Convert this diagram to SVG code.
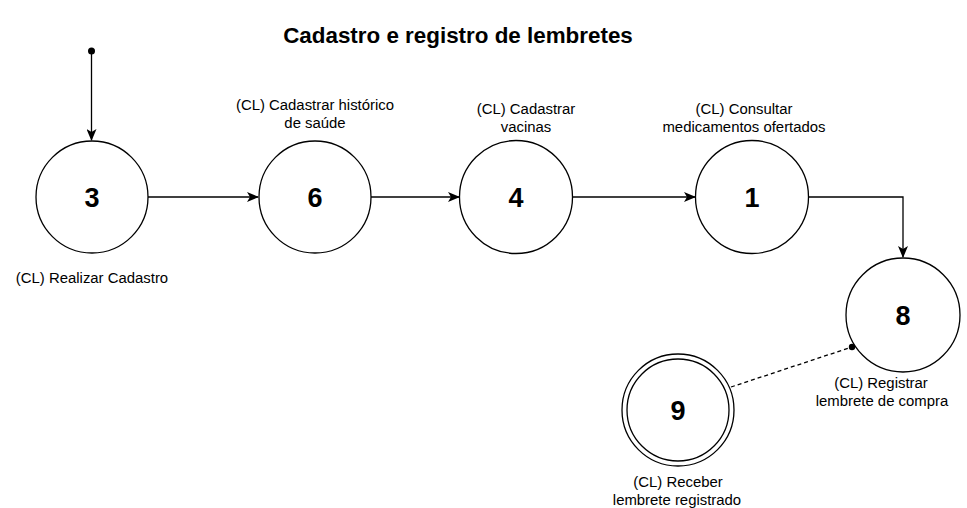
<svg xmlns="http://www.w3.org/2000/svg" width="967" height="508" viewBox="0 0 967 508">
<style>
.c{fill:#fff;stroke:#000;stroke-width:1.3}
.n{font-family:"Liberation Sans",Arial,sans-serif;font-weight:bold;font-size:27px;text-anchor:middle;fill:#000}
.l{font-family:"Liberation Sans",Arial,sans-serif;font-size:14.9px;text-anchor:middle;fill:#000}
.t{font-family:"Liberation Sans",Arial,sans-serif;font-weight:bold;font-size:22.4px;text-anchor:middle;fill:#000}
.e{fill:none;stroke:#000;stroke-width:1.3}
</style>
<defs>
<marker id="a" viewBox="0 0 12 10" refX="11" refY="5" markerWidth="12" markerHeight="10" markerUnits="userSpaceOnUse" orient="auto">
<path d="M0,0 L12,5 L0,10 L3,5 Z" fill="#000"/>
</marker>
</defs>
<rect width="967" height="508" fill="#fff"/>
<text class="t" x="458" y="43">Cadastro e registro de lembretes</text>
<g id="connectors">
<circle cx="91.5" cy="51" r="3.5" fill="#000"/>
<path class="e" d="M91.5,51 V140" marker-end="url(#a)"/>
<path class="e" d="M148,197 H258" marker-end="url(#a)"/>
<path class="e" d="M371,197 H459" marker-end="url(#a)"/>
<path class="e" d="M573,197 H695" marker-end="url(#a)"/>
<path class="e" d="M809,197 H903 V257" marker-end="url(#a)"/>
<path class="e" d="M731,387 L852,347" stroke-dasharray="4 3"/>
<circle cx="852" cy="347" r="3.2" fill="#000"/>
</g>
<g id="node3">
<circle class="c" cx="92" cy="197" r="56"/>
<text class="n" x="92" y="207">3</text>
<text class="l" x="92" y="283">(CL) Realizar Cadastro</text>
</g>
<g id="node6">
<circle class="c" cx="315" cy="197" r="56"/>
<text class="n" x="315" y="207">6</text>
<text class="l" x="315" y="110">(CL) Cadastrar histórico</text>
<text class="l" x="315" y="128">de saúde</text>
</g>
<g id="node4">
<circle class="c" cx="516" cy="197" r="56.5"/>
<text class="n" x="516" y="207">4</text>
<text class="l" x="526" y="114">(CL) Cadastrar</text>
<text class="l" x="526" y="132">vacinas</text>
</g>
<g id="node1">
<circle class="c" cx="752" cy="197" r="56.5"/>
<text class="n" x="752" y="207">1</text>
<text class="l" x="744" y="114">(CL) Consultar</text>
<text class="l" x="744" y="132">medicamentos ofertados</text>
</g>
<g id="node8">
<circle class="c" cx="903" cy="315" r="57"/>
<text class="n" x="903" y="325">8</text>
<text class="l" x="881" y="388">(CL) Registrar</text>
<text class="l" x="882" y="406">lembrete de compra</text>
</g>
<g id="node9">
<circle class="c" cx="678" cy="410" r="56"/>
<circle class="c" cx="678" cy="410" r="51"/>
<text class="n" x="678" y="420">9</text>
<text class="l" x="678" y="487">(CL) Receber</text>
<text class="l" x="677" y="505">lembrete registrado</text>
</g>
</svg>
